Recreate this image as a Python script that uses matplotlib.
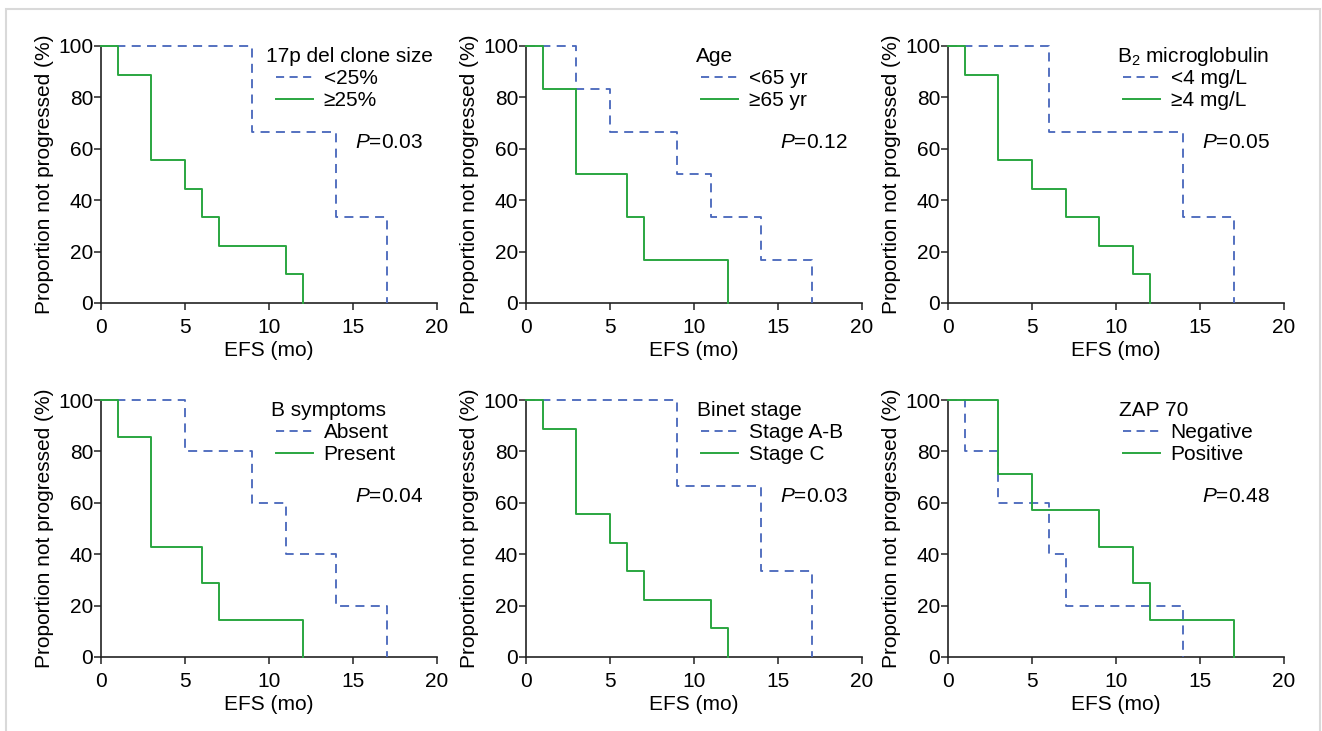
import matplotlib
matplotlib.use("Agg")
import matplotlib.pyplot as plt
from matplotlib.lines import Line2D
from matplotlib.patches import Rectangle

plt.rcParams["font.family"] = ["Liberation Sans", "DejaVu Sans"]
plt.rcParams["mathtext.fontset"] = "custom"
plt.rcParams["mathtext.rm"] = "Liberation Sans"
plt.rcParams["mathtext.it"] = "Liberation Sans:italic"

# ---- data (months, % not progressed) ----
titles = ["17p del clone size", "Age", "B$_2$ microglobulin",
          "B symptoms", "Binet stage", "ZAP 70"]
low_labels = ["<25%", "<65 yr", "<4 mg/L", "Absent", "Stage A-B", "Negative"]
high_labels = ["≥25%", "≥65 yr", "≥4 mg/L", "Present", "Stage C", "Positive"]
p_values = ["0.03", "0.12", "0.05", "0.04", "0.03", "0.48"]

clone_low_t = [0, 9, 14, 17]
clone_low_s = [100, 66.7, 33.3, 0]
clone_high_t = [0, 1, 3, 5, 6, 7, 11, 12]
clone_high_s = [100, 88.9, 55.6, 44.4, 33.3, 22.2, 11.1, 0]

age_low_t = [0, 3, 5, 9, 11, 14, 17]
age_low_s = [100, 83.3, 66.7, 50, 33.3, 16.7, 0]
age_high_t = [0, 1, 3, 6, 7, 12]
age_high_s = [100, 83.3, 50, 33.3, 16.7, 0]

b2m_low_t = [0, 6, 14, 17]
b2m_low_s = [100, 66.7, 33.3, 0]
b2m_high_t = [0, 1, 3, 5, 7, 9, 11, 12]
b2m_high_s = [100, 88.9, 55.6, 44.4, 33.3, 22.2, 11.1, 0]

bsym_low_t = [0, 5, 9, 11, 14, 17]
bsym_low_s = [100, 80, 60, 40, 20, 0]
bsym_high_t = [0, 1, 3, 6, 7, 12]
bsym_high_s = [100, 85.7, 42.9, 28.6, 14.3, 0]

binet_low_t = [0, 9, 14, 17]
binet_low_s = [100, 66.7, 33.3, 0]
binet_high_t = [0, 1, 3, 5, 6, 7, 11, 12]
binet_high_s = [100, 88.9, 55.6, 44.4, 33.3, 22.2, 11.1, 0]

zap_low_t = [0, 1, 3, 6, 7, 14]
zap_low_s = [100, 80, 60, 40, 20, 0]
zap_high_t = [0, 3, 5, 9, 11, 12, 17]
zap_high_s = [100, 71.4, 57.1, 42.9, 28.6, 14.3, 0]

low_curves = [(clone_low_t, clone_low_s), (age_low_t, age_low_s),
              (b2m_low_t, b2m_low_s), (bsym_low_t, bsym_low_s),
              (binet_low_t, binet_low_s), (zap_low_t, zap_low_s)]
high_curves = [(clone_high_t, clone_high_s), (age_high_t, age_high_s),
               (b2m_high_t, b2m_high_s), (bsym_high_t, bsym_high_s),
               (binet_high_t, binet_high_s), (zap_high_t, zap_high_s)]

x_ticks = [0, 5, 10, 15, 20]
y_ticks = [0, 20, 40, 60, 80, 100]

BLUE = "#4766bb"
GREEN = "#2aa640"
FS = 15

W, H = 1322, 731
fig = plt.figure(figsize=(W / 100, H / 100), dpi=100)

# light grey frame around the figure
fig.patches.append(Rectangle((6 / W, -0.05), 1314 / W, 1.05 - 9 / H,
                             transform=fig.transFigure, fill=False,
                             edgecolor="#d9d9d9", linewidth=1.5))

col_left = [101, 526, 948]
row_bottom = [303, 657]
ax_w, ax_h = 336, 257
title_x = [0.49, 0.505, 0.503, 0.506, 0.508, 0.508]

for i in range(6):
    row, col = divmod(i, 3)
    ax = fig.add_axes([col_left[col] / W, 1 - row_bottom[row] / H,
                       ax_w / W, ax_h / H])

    lt, ls = low_curves[i]
    ht, hs = high_curves[i]
    ax.step(lt, ls, where="post", color=BLUE, linewidth=1.3,
            linestyle=(0, (5, 3.5)), clip_on=False, zorder=3)
    ax.step(ht, hs, where="post", color=GREEN, linewidth=1.4,
            clip_on=False, zorder=4)

    ax.set_xlim(0, 20)
    ax.set_ylim(0, 100)
    ax.set_xticks(x_ticks)
    ax.set_yticks(y_ticks)
    for side in ("top", "right"):
        ax.spines[side].set_visible(False)
    for side in ("left", "bottom"):
        ax.spines[side].set_linewidth(1.2)
        ax.spines[side].set_color("#222222")
    ax.tick_params(axis="both", direction="out", length=5, width=1.1,
                   color="#222222", labelsize=FS)
    ax.tick_params(axis="y", pad=0.5)
    ax.tick_params(axis="x", pad=6)

    ax.set_xlabel("EFS (mo)", fontsize=FS, labelpad=2.5)
    ax.set_ylabel("Proportion not progressed (%)", fontsize=FS, labelpad=3)

    ax.text(title_x[i], 0.958, titles[i], transform=ax.transAxes,
            fontsize=FS, ha="left", va="center")
    handles = [Line2D([], [], color=BLUE, linewidth=1.3,
                      linestyle=(0, (4.5, 3))),
               Line2D([], [], color=GREEN, linewidth=1.4)]
    ax.legend(handles, [low_labels[i], high_labels[i]],
              loc="upper left", bbox_to_anchor=(0.52, 0.91),
              frameon=False, fontsize=FS, borderpad=0, borderaxespad=0,
              labelspacing=0.15, handlelength=1.8, handletextpad=0.5)

    ax.text(0.755, 0.625, "$\\mathit{P}$=" + p_values[i],
            transform=ax.transAxes, fontsize=FS, ha="left", va="center")

fig.savefig("out.png", dpi=100)
